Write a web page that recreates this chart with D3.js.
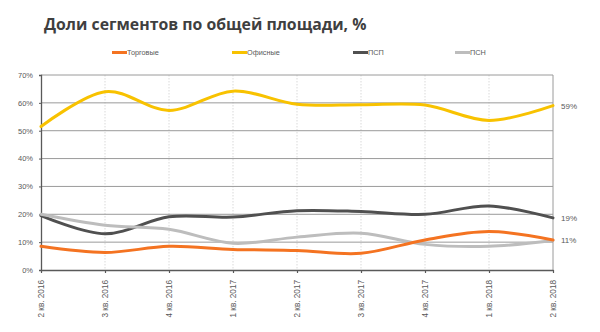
<!DOCTYPE html>
<html><head><meta charset="utf-8">
<script src="https://cdn.jsdelivr.net/npm/d3@7"></script>
<style>body{margin:0;background:#fff}svg{display:block}</style>
</head><body>
<svg id="c" width="600" height="332"></svg>
<script>
const categories = ["2 кв. 2016","3 кв. 2016","4 кв. 2016","1 кв. 2017","2 кв. 2017","3 кв. 2017","4 кв. 2017","1 кв. 2018","2 кв. 2018"];
const trade  = [8.5, 6.3, 8.5, 7.4, 7.0, 6.0, 10.8, 13.8, 10.8];
const office = [51.5, 64.0, 57.3, 64.2, 59.5, 59.3, 59.2, 53.7, 59.0];
const psp    = [19.5, 13.0, 19.1, 19.0, 21.3, 21.0, 20.0, 23.0, 18.7];
const psn    = [20.0, 16.1, 14.6, 9.6, 11.8, 13.2, 9.2, 8.5, 10.6];
const seriesNames = ["Торговые","Офисные","ПСП","ПСН"];
const yTicks = [0,10,20,30,40,50,60,70];
const endLabels = [{s:1, t:"59%"},{s:2, t:"19%"},{s:0, t:"11%"}];

const colors = ["#F47321","#F8C200","#505050","#BDBDBD"];
const series = [trade, office, psp, psn];

const svg = d3.select("#c");
const L = 41, R = 553, T = 75, B = 270;
const x = d3.scalePoint().domain(categories).range([L, R]);
const y = d3.scaleLinear().domain([0,70]).range([B, T]);

svg.append("text").attr("x",44).attr("y",30)
  .attr("font-family","Open Sans, sans-serif").attr("font-weight","bold")
  .attr("font-size",15.8).attr("fill","#3f3f3f")
  .text("Доли сегментов по общей площади, %");

// legend
const legX = [112, 232, 353, 455];
seriesNames.forEach((n,i)=>{
  svg.append("line").attr("x1",legX[i]).attr("x2",legX[i]+15).attr("y1",52.5).attr("y2",52.5)
    .attr("stroke",colors[i]).attr("stroke-width",3);
  svg.append("text").attr("x",legX[i]+15).attr("y",55)
    .attr("font-family","Liberation Sans, Arial, sans-serif").attr("font-size",7.3).attr("fill","#595959").text(n);
});

// vertical dotted gridlines
svg.append("g").selectAll("line").data(categories.slice(1,-1)).join("line")
  .attr("x1",d=>x(d)).attr("x2",d=>x(d)).attr("y1",T).attr("y2",B)
  .attr("stroke","#d9d9d9").attr("stroke-width",1).attr("stroke-dasharray","1.5,1.5");

// horizontal gridlines
svg.append("g").selectAll("line").data(yTicks.slice(1)).join("line")
  .attr("x1",L).attr("x2",R).attr("y1",d=>y(d)).attr("y2",d=>y(d))
  .attr("stroke","#9a9a9a").attr("stroke-width",1);
svg.append("line").attr("x1",R).attr("x2",R).attr("y1",T).attr("y2",B).attr("stroke","#9a9a9a");

// y axis
const ya = svg.append("g").attr("transform",`translate(${L},0)`)
  .call(d3.axisLeft(y).tickValues(yTicks).tickSize(2).tickPadding(6).tickFormat(d=>d+"%"));
ya.select(".domain").attr("stroke","#595959").attr("stroke-width",1.3);
ya.selectAll(".tick line").attr("stroke","#595959");
ya.selectAll("text").attr("font-family","Liberation Sans, Arial, sans-serif").attr("font-size",7.5).attr("fill","#595959");

// x axis
const xa = svg.append("g").attr("transform",`translate(0,${B})`)
  .call(d3.axisBottom(x).tickSize(3).tickSizeOuter(0));
xa.select(".domain").attr("stroke","#595959").attr("stroke-width",1.5);
xa.selectAll(".tick line").attr("stroke","#595959").attr("stroke-width",1.2);
xa.selectAll("text").attr("font-family","Liberation Sans, Arial, sans-serif").attr("font-size",8.2).attr("fill","#595959")
  .attr("transform","rotate(-90)").attr("text-anchor","end").attr("dy","0.32em").attr("x",-10).attr("y",0);

// lines
const line = d3.line().x((d,i)=>x(categories[i])).y(d=>y(d)).curve(d3.curveCardinal.tension(0));
[1,2,3,0].forEach(i=>{
  svg.append("path").attr("d",line(series[i])).attr("fill","none")
    .attr("stroke",colors[i]).attr("stroke-width",3).attr("stroke-linecap","round");
});

// end labels
endLabels.forEach(e=>{
  const s = series[e.s];
  svg.append("text").attr("x",561).attr("y",y(s[s.length-1])+3)
    .attr("font-family","Liberation Sans, Arial, sans-serif").attr("font-size",8)
    .attr("fill","#595959").text(e.t);
});
</script>
</body></html>
